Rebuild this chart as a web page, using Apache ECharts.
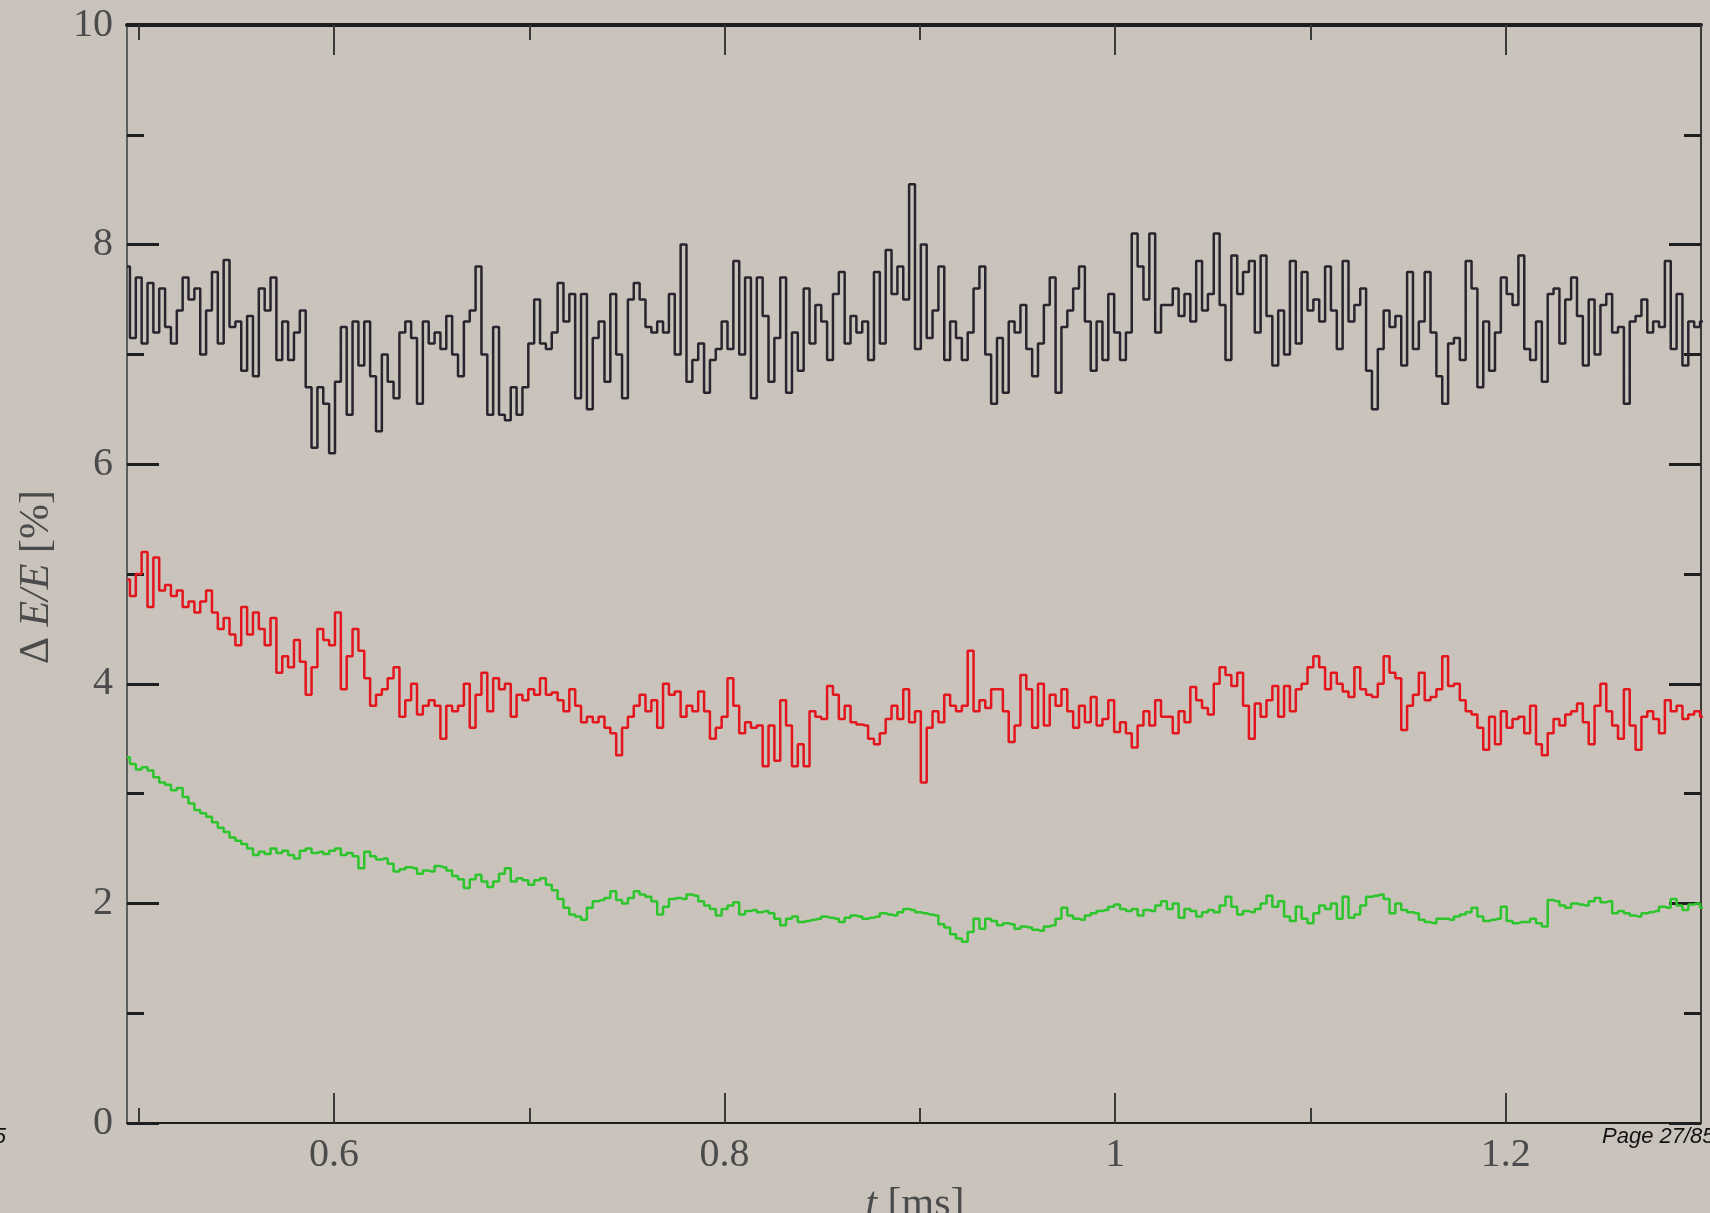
<!DOCTYPE html>
<html>
<head>
<meta charset="utf-8">
<title>ΔE/E vs t</title>
<script src="https://cdn.jsdelivr.net/npm/echarts@6/dist/echarts.min.js"></script>
<style>
  html, body { margin: 0; padding: 0; background: #c9c3bc; }
  #chart { width: 1710px; height: 1213px; }
</style>
</head>
<body>
<div id="chart"></div>
<script>
// Sampling grid of the traces (t in ms)
const tStart = 0.494;
const tStep = 0.003;

// Energy resolution ΔE/E [%] per time bin
const blackDE = [
  7.8, 7.15, 7.7, 7.1, 7.65, 7.2, 7.6, 7.25, 7.1, 7.4,
  7.7, 7.5, 7.6, 7.0, 7.4, 7.75, 7.1, 7.86, 7.25, 7.3,
  6.85, 7.35, 6.8, 7.6, 7.4, 7.7, 6.95, 7.3, 6.95, 7.2,
  7.4, 6.7, 6.15, 6.7, 6.55, 6.1, 6.75, 7.25, 6.45, 7.3,
  6.9, 7.3, 6.8, 6.3, 7.0, 6.75, 6.6, 7.2, 7.3, 7.15,
  6.55, 7.3, 7.1, 7.2, 7.05, 7.35, 7.0, 6.8, 7.3, 7.4,
  7.8, 7.0, 6.45, 7.25, 6.45, 6.4, 6.7, 6.45, 6.7, 7.1,
  7.5, 7.1, 7.05, 7.2, 7.65, 7.3, 7.55, 6.6, 7.55, 6.5,
  7.15, 7.3, 6.75, 7.55, 7.0, 6.6, 7.5, 7.65, 7.5, 7.25,
  7.2, 7.3, 7.2, 7.55, 7.0, 8.0, 6.75, 6.95, 7.1, 6.65,
  6.95, 7.05, 7.3, 7.05, 7.85, 7.0, 7.7, 6.6, 7.7, 7.35,
  6.75, 7.15, 7.7, 6.65, 7.2, 6.85, 7.6, 7.1, 7.45, 7.3,
  6.95, 7.55, 7.75, 7.1, 7.35, 7.2, 7.3, 6.95, 7.75, 7.1,
  7.95, 7.55, 7.8, 7.5, 8.55, 7.05, 8.0, 7.15, 7.4, 7.8,
  6.95, 7.3, 7.15, 6.95, 7.2, 7.6, 7.8, 7.0, 6.55, 7.15,
  6.65, 7.3, 7.2, 7.45, 7.05, 6.8, 7.1, 7.45, 7.7, 6.65,
  7.25, 7.4, 7.6, 7.8, 7.3, 6.85, 7.3, 6.95, 7.55, 7.2,
  6.95, 7.2, 8.1, 7.8, 7.5, 8.1, 7.2, 7.45, 7.45, 7.6,
  7.35, 7.55, 7.3, 7.85, 7.4, 7.55, 8.1, 7.45, 6.95, 7.9,
  7.55, 7.75, 7.85, 7.2, 7.9, 7.35, 6.9, 7.4, 7.0, 7.85,
  7.1, 7.75, 7.4, 7.5, 7.3, 7.8, 7.4, 7.05, 7.85, 7.3,
  7.45, 7.6, 6.85, 6.5, 7.05, 7.4, 7.25, 7.35, 6.9, 7.75,
  7.05, 7.3, 7.75, 7.2, 6.8, 6.55, 7.1, 7.15, 6.95, 7.85,
  7.6, 6.7, 7.3, 6.85, 7.2, 7.7, 7.55, 7.45, 7.9, 7.05,
  6.95, 7.3, 6.75, 7.55, 7.6, 7.1, 7.5, 7.7, 7.35, 6.9,
  7.5, 7.0, 7.45, 7.55, 7.2, 7.25, 6.55, 7.3, 7.35, 7.5,
  7.2, 7.3, 7.25, 7.85, 7.05, 7.55, 6.9, 7.3, 7.25, 7.3
];

const redDE = [
  4.95, 4.8, 5.0, 5.2, 4.7, 5.15, 4.85, 4.9, 4.8, 4.85,
  4.7, 4.75, 4.65, 4.75, 4.85, 4.65, 4.5, 4.6, 4.45, 4.35,
  4.7, 4.45, 4.65, 4.5, 4.35, 4.6, 4.1, 4.25, 4.15, 4.4,
  4.2, 3.9, 4.15, 4.5, 4.4, 4.35, 4.65, 3.95, 4.25, 4.5,
  4.3, 4.05, 3.8, 3.9, 3.95, 4.05, 4.15, 3.7, 3.85, 4.0,
  3.72, 3.8, 3.85, 3.8, 3.5, 3.8, 3.75, 3.8, 4.0, 3.6,
  3.9, 4.1, 3.75, 4.05, 3.95, 4.0, 3.7, 3.9, 3.85, 3.95,
  3.9, 4.05, 3.9, 3.92, 3.85, 3.75, 3.95, 3.8, 3.65, 3.7,
  3.65, 3.7, 3.6, 3.55, 3.35, 3.6, 3.7, 3.8, 3.9, 3.75,
  3.85, 3.6, 4.0, 3.9, 3.93, 3.7, 3.8, 3.75, 3.93, 3.75,
  3.5, 3.6, 3.7, 4.05, 3.8, 3.55, 3.65, 3.6, 3.62, 3.25,
  3.62, 3.3, 3.85, 3.62, 3.25, 3.45, 3.25, 3.75, 3.7, 3.68,
  3.98, 3.9, 3.68, 3.8, 3.65, 3.63, 3.62, 3.5, 3.45, 3.55,
  3.68, 3.8, 3.68, 3.95, 3.65, 3.75, 3.1, 3.6, 3.75, 3.65,
  3.9, 3.8, 3.75, 3.8, 4.3, 3.75, 3.85, 3.78, 3.95, 3.95,
  3.75, 3.47, 3.62, 4.08, 3.95, 3.6, 4.0, 3.62, 3.9, 3.8,
  3.95, 3.75, 3.6, 3.8, 3.65, 3.88, 3.62, 3.68, 3.85, 3.56,
  3.65, 3.55, 3.42, 3.62, 3.75, 3.62, 3.85, 3.7, 3.7, 3.55,
  3.75, 3.65, 3.97, 3.85, 3.78, 3.72, 4.0, 4.15, 4.08, 3.98,
  4.1, 3.8, 3.5, 3.82, 3.7, 3.85, 3.98, 3.7, 3.98, 3.75,
  3.95, 4.0, 4.15, 4.25, 4.15, 3.95, 4.1, 4.0, 3.93, 3.88,
  4.15, 3.95, 3.9, 3.88, 4.0, 4.25, 4.1, 4.05, 3.58, 3.8,
  3.9, 4.1, 3.85, 3.88, 3.95, 4.25, 3.98, 4.0, 3.85, 3.75,
  3.72, 3.6, 3.4, 3.7, 3.45, 3.75, 3.6, 3.68, 3.7, 3.55,
  3.8, 3.45, 3.35, 3.55, 3.68, 3.62, 3.72, 3.75, 3.82, 3.65,
  3.45, 3.8, 4.0, 3.75, 3.62, 3.5, 3.95, 3.62, 3.4, 3.7,
  3.75, 3.68, 3.55, 3.85, 3.75, 3.8, 3.68, 3.72, 3.75, 3.7
];

const greenDE = [
  3.33, 3.27, 3.22, 3.24, 3.21, 3.15, 3.1, 3.08, 3.03, 3.05,
  2.97, 2.91, 2.85, 2.82, 2.79, 2.74, 2.69, 2.65, 2.6, 2.57,
  2.54, 2.5, 2.44, 2.47, 2.45, 2.5, 2.46, 2.48, 2.44, 2.41,
  2.48, 2.5, 2.46, 2.47, 2.45, 2.48, 2.5, 2.44, 2.46, 2.43,
  2.32, 2.47, 2.43, 2.4, 2.41, 2.36, 2.29, 2.31, 2.33, 2.32,
  2.27, 2.3, 2.29, 2.34, 2.33, 2.3, 2.25, 2.22, 2.14, 2.22,
  2.26, 2.2, 2.15, 2.2, 2.27, 2.32, 2.2, 2.23, 2.21, 2.17,
  2.21, 2.23, 2.17, 2.12, 2.04, 1.96, 1.9, 1.88, 1.85, 1.96,
  2.02, 2.03, 2.05, 2.11, 2.03, 2.0, 2.05, 2.11, 2.08, 2.06,
  2.02, 1.9, 1.97, 2.04, 2.05, 2.04, 2.08, 2.07, 2.02, 1.98,
  1.95, 1.89, 1.95, 1.98, 2.01, 1.9, 1.93, 1.94, 1.92, 1.93,
  1.91, 1.86, 1.8, 1.86, 1.88, 1.83, 1.84, 1.85, 1.86, 1.88,
  1.87, 1.86, 1.83, 1.87, 1.89, 1.88, 1.86, 1.87, 1.88, 1.91,
  1.9, 1.89, 1.92, 1.95, 1.94, 1.92, 1.91, 1.9, 1.89, 1.81,
  1.78, 1.72, 1.68, 1.65, 1.74, 1.86, 1.77, 1.86, 1.84, 1.8,
  1.82, 1.81, 1.77, 1.79, 1.78, 1.76, 1.75, 1.79, 1.8, 1.86,
  1.96, 1.89, 1.86, 1.85, 1.89, 1.91, 1.93, 1.94, 1.97, 1.99,
  1.95, 1.93, 1.95, 1.89, 1.94, 1.93, 1.98, 2.02, 1.95, 2.0,
  1.87, 1.95, 1.93, 1.88, 1.92, 1.94, 1.92, 1.98, 2.06, 1.97,
  1.9, 1.93, 1.92, 1.95, 2.0, 2.07, 1.97, 2.02, 1.88, 1.84,
  1.97, 1.86, 1.82, 1.91, 1.98, 1.95, 2.0, 1.86, 2.06, 1.87,
  1.9, 1.98, 2.06, 2.07, 2.08, 2.04, 1.91, 2.0, 1.94, 1.92,
  1.91, 1.85, 1.83, 1.82, 1.86, 1.86, 1.85, 1.88, 1.9, 1.92,
  1.96, 1.88, 1.84, 1.85, 1.86, 1.97, 1.84, 1.82, 1.83, 1.83,
  1.86, 1.82, 1.79, 2.03, 2.02, 1.98, 1.96, 2.0, 1.99, 1.98,
  2.02, 2.05, 2.01, 2.02, 1.91, 1.93, 1.91, 1.89, 1.88, 1.91,
  1.92, 1.93, 1.97, 1.96, 2.04, 1.98, 1.94, 1.99, 2.0, 1.96
];

// Axis ticks
const xMajorTicks = [0.6, 0.8, 1, 1.2];
const xMinorTicks = [0.5, 0.7, 0.9, 1.1, 1.3];
const xRange = [0.494, 1.3];
const yRange = [0, 10];

const seriesColors = { black: '#29252e', red: '#e3161d', green: '#2cc62c' };

function pairs(values) {
  return values.map((v, k) => [+(tStart + tStep * k).toFixed(3), v]);
}

const serif = '"Liberation Serif", "DejaVu Serif", serif';
const labelColor = '#4b4b4b';

function xAxisDef(position, ticks, len, showLabel, lineWidth, showLine) {
  return {
    type: 'value',
    position: position,
    min: xRange[0],
    max: xRange[1],
    axisLine: { show: showLine, onZero: false, lineStyle: { color: '#1e1e1e', width: lineWidth } },
    axisTick: {
      show: true, inside: true, length: len, customValues: ticks,
      lineStyle: { color: '#3a3a3a', width: 2 }
    },
    axisLabel: {
      show: showLabel, customValues: ticks, margin: 12,
      fontFamily: serif, fontSize: 40, color: labelColor
    },
    splitLine: { show: false }
  };
}

function yAxisDef(position, showLabel, lineColor) {
  return {
    type: 'value',
    position: position,
    min: yRange[0],
    max: yRange[1],
    interval: 2,
    axisLine: { show: true, lineStyle: { color: lineColor, width: 2 } },
    axisTick: { show: true, inside: true, length: 32, lineStyle: { color: '#1e1e1e', width: 3 } },
    minorTick: { show: true, splitNumber: 2, length: 17, lineStyle: { color: '#1e1e1e', width: 3 } },
    axisLabel: {
      show: showLabel, margin: 14,
      fontFamily: serif, fontSize: 40, color: labelColor
    },
    splitLine: { show: false },
    minorSplitLine: { show: false }
  };
}

function traceSeries(values, color, z) {
  return {
    type: 'line',
    data: pairs(values),
    xAxisIndex: 0,
    yAxisIndex: 0,
    step: 'middle',
    showSymbol: false,
    symbol: 'none',
    animation: false,
    z: z,
    lineStyle: { color: color, width: 2.5 }
  };
}

const chart = echarts.init(document.getElementById('chart'), null, { renderer: 'canvas' });

chart.setOption({
  backgroundColor: '#c9c3bc',
  animation: false,
  grid: { left: 127, right: 9, top: 25, bottom: 90, containLabel: false, outerBoundsMode: 'none' },
  xAxis: [
    xAxisDef('bottom', xMajorTicks, 30, true, 2, true),
    xAxisDef('bottom', xMinorTicks, 15, false, 2, false),
    xAxisDef('top', xMajorTicks, 30, false, 4, true),
    xAxisDef('top', xMinorTicks, 15, false, 4, false)
  ],
  yAxis: [
    yAxisDef('left', true, '#5e5e5e'),
    yAxisDef('right', false, '#3a3a3a')
  ],
  series: [
    traceSeries(greenDE, seriesColors.green, 3),
    traceSeries(redDE, seriesColors.red, 4),
    traceSeries(blackDE, seriesColors.black, 5)
  ],
  graphic: [
    {
      type: 'text',
      x: 37, y: 577,
      rotation: Math.PI / 2,
      style: {
        text: '{n|Δ }{i|E/E}{n| [%]}',
        align: 'center',
        verticalAlign: 'middle',
        fill: labelColor,
        rich: {
          n: { fontFamily: serif, fontSize: 42, fill: labelColor },
          i: { fontFamily: serif, fontSize: 42, fontStyle: 'italic', fill: labelColor }
        }
      }
    },
    {
      type: 'text',
      x: 915, y: 1205,
      style: {
        text: '{i|t}{n| [ms]}',
        align: 'center',
        verticalAlign: 'middle',
        fill: labelColor,
        rich: {
          n: { fontFamily: serif, fontSize: 42, fill: labelColor },
          i: { fontFamily: serif, fontSize: 42, fontStyle: 'italic', fill: labelColor }
        }
      }
    },
    {
      type: 'text',
      x: 1602, y: 1137,
      style: {
        text: 'Page 27/85',
        align: 'left',
        verticalAlign: 'middle',
        font: 'italic 22px "Liberation Sans", Arial, sans-serif',
        fill: '#111'
      }
    },
    {
      type: 'text',
      x: 6, y: 1137,
      style: {
        text: '5',
        align: 'right',
        verticalAlign: 'middle',
        font: 'italic 22px "Liberation Sans", Arial, sans-serif',
        fill: '#111'
      }
    }
  ]
});
</script>
</body>
</html>
